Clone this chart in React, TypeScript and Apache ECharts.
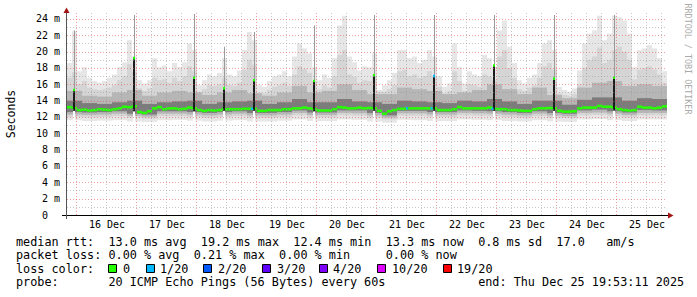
import React, { useEffect, useRef } from "react";
import * as echarts from "echarts";

// ---------- data (x in hours since Dec 15 20:00, y in milliseconds) ----------
const DAY_LABELS = ["16 Dec", "17 Dec", "18 Dec", "19 Dec", "20 Dec", "21 Dec", "22 Dec", "23 Dec", "24 Dec", "25 Dec"];
const DAY_LABEL_HOURS = [16, 40, 64, 88, 112, 136, 160, 184, 208, 232];
const MIDNIGHT_HOURS = [4, 28, 52, 76, 100, 124, 148, 172, 196, 220];
const SIX_HOUR_HOURS = [10, 16, 22, 34, 40, 46, 58, 64, 70, 82, 88, 94, 106, 112, 118, 130, 136, 142, 154, 160, 166, 178, 184, 190, 202, 208, 214, 226, 232, 238];
const Y_MAJOR = [2, 4, 6, 8, 10, 12, 14, 16, 18, 20, 22, 24];
const Y_MINOR = [1, 3, 5, 7, 9, 11, 13, 15, 17, 19, 21, 23];
const X_MAX = 240;
const Y_MAX = 24.73;

// median rtt, 2-hour buckets
const MEDIAN = [
  13.2, 13.1, 12.85, 12.9, 12.8, 12.85, 12.95, 12.9, 12.85, 12.95,
  13.05, 13.25, 13.2, 13.3, 12.6, 12.5, 12.7, 13.05, 13.2, 12.95,
  13.05, 13.05, 12.95, 13.0, 13.15, 13.05, 12.85, 12.75, 12.85, 12.8,
  12.85, 12.95, 12.95, 12.95, 12.95, 13.0, 13.0, 13.0, 12.75, 12.75,
  12.85, 12.85, 12.85, 12.95, 12.95, 13.05, 13.05, 13.15, 13.05, 12.95,
  12.8, 12.8, 12.8, 12.95, 13.2, 13.15, 13.05, 13.05, 13.15, 13.05,
  13.1, 13.05, 12.75, 12.4, 12.7, 12.85, 13.0, 13.0, 13.05, 13.05,
  13.05, 13.05, 13.05, 13.05, 12.85, 12.85, 12.85, 12.95, 13.2, 13.05,
  13.05, 13.05, 13.05, 13.05, 13.15, 13.0, 12.95, 12.95, 12.85, 12.85,
  12.8, 12.75, 12.75, 12.95, 13.05, 13.05, 13.1, 13.05, 12.75, 12.65,
  12.65, 12.7, 13.05, 13.15, 13.15, 13.15, 13.35, 13.25, 13.25, 13.15,
  12.95, 12.85, 12.8, 12.85, 13.25, 13.15, 13.15, 13.05, 13.15, 13.3,
];
// highest ping, 2-hour buckets
const SMOKE_MAX = [
  18.6, 22.5, 17.6, 18.1, 16.8, 16.4, 16.2, 16.4, 16.8, 17.2,
  18.1, 18.7, 21.4, 19.4, 16.5, 16.1, 16.5, 19.2, 18.1, 18.3,
  17.6, 18.6, 18.1, 18.7, 21.0, 20.2, 15.9, 16.5, 17.2, 17.0,
  17.4, 19.2, 17.2, 17.0, 17.7, 20.2, 22.4, 21.4, 15.9, 15.7,
  16.4, 17.0, 17.2, 17.6, 17.0, 19.4, 21.0, 20.4, 19.8, 18.1,
  16.5, 17.2, 16.8, 19.2, 23.2, 24.4, 19.4, 18.7, 17.7, 18.2,
  18.1, 19.8, 15.3, 15.9, 16.5, 17.4, 20.2, 20.2, 19.2, 19.4,
  18.6, 19.0, 20.2, 19.4, 17.0, 15.7, 16.1, 21.0, 18.1, 16.1,
  17.6, 17.2, 17.0, 19.6, 19.2, 18.1, 22.6, 23.8, 20.6, 18.6,
  16.5, 16.1, 16.8, 17.2, 18.6, 21.0, 21.4, 20.2, 15.7, 15.3,
  15.1, 15.5, 17.7, 21.0, 22.2, 22.6, 24.4, 21.4, 22.2, 24.4,
  24.2, 23.8, 22.2, 18.1, 20.2, 20.4, 20.8, 20.4, 19.2, 17.6,
];
// 2nd highest smoke level, 2-hour buckets
const SMOKE_HI2 = [
  16.8, 17.5, 16.0, 16.4, 15.6, 15.4, 15.3, 15.4, 15.6, 15.9,
  16.5, 17.0, 18.5, 17.5, 15.5, 15.2, 15.5, 16.8, 16.5, 16.6,
  16.2, 16.8, 16.4, 17.0, 18.2, 17.6, 15.1, 15.4, 15.9, 15.8,
  16.0, 16.8, 15.9, 15.8, 16.2, 17.8, 19.0, 18.4, 15.0, 14.9,
  15.3, 15.7, 15.9, 16.2, 15.8, 17.2, 18.2, 17.9, 17.4, 16.4,
  15.4, 15.9, 15.6, 17.0, 19.6, 20.2, 17.2, 16.9, 16.2, 16.5,
  16.4, 17.2, 15.1, 15.1, 15.4, 15.9, 17.6, 17.8, 17.0, 17.2,
  16.8, 17.0, 17.6, 17.0, 15.7, 14.9, 15.2, 17.6, 16.4, 15.2,
  16.0, 15.9, 15.7, 17.2, 17.0, 16.5, 19.4, 20.2, 18.0, 16.8,
  15.4, 15.2, 15.6, 15.9, 16.8, 18.2, 18.6, 17.8, 14.9, 14.7,
  14.6, 14.8, 16.0, 18.0, 19.0, 19.4, 20.5, 18.6, 19.0, 20.2,
  20.6, 20.0, 19.0, 16.6, 17.8, 18.0, 18.2, 17.8, 17.2, 16.2,
];
// 6-hour buckets
const SMOKE_HI3 = [
  15.2, 14.6, 14.5, 15.0, 15.3, 14.6, 15.0, 15.2, 15.0, 14.7,
  15.0, 15.3, 14.9, 14.6, 15.0, 15.8, 15.0, 15.2, 16.0, 15.3,
  14.8, 14.8, 15.6, 15.4, 15.2, 14.8, 15.0, 15.3, 16.0, 15.4,
  14.8, 15.6, 14.7, 14.3, 15.6, 16.2, 16.4, 15.8, 16.0, 15.8,
];
const SMOKE_HI4 = [
  14.0, 13.7, 13.6, 13.8, 14.0, 13.6, 13.8, 13.9, 14.0, 13.6,
  13.8, 13.9, 14.0, 13.6, 13.8, 14.2, 13.8, 13.8, 14.2, 13.9,
  13.8, 13.6, 14.0, 13.9, 13.8, 13.7, 14.0, 13.9, 14.2, 13.9,
  13.6, 14.0, 14.0, 13.5, 14.1, 14.4, 14.4, 14.0, 14.3, 14.2,
];
const SMOKE_LO4 = [
  12.6, 12.55, 12.6, 12.7, 12.4, 12.3, 12.7, 12.7, 12.6, 12.5,
  12.6, 12.7, 12.5, 12.5, 12.6, 12.8, 12.55, 12.55, 12.8, 12.8,
  12.5, 12.2, 12.75, 12.75, 12.6, 12.6, 12.8, 12.75, 12.7, 12.6,
  12.5, 12.7, 12.5, 12.4, 12.8, 12.9, 12.7, 12.55, 12.85, 12.8,
];
const SMOKE_LO3 = [
  12.3, 12.25, 12.3, 12.4, 12.15, 12.05, 12.4, 12.4, 12.3, 12.2,
  12.3, 12.4, 12.2, 12.2, 12.3, 12.5, 12.25, 12.25, 12.5, 12.45,
  12.2, 11.95, 12.45, 12.45, 12.3, 12.3, 12.5, 12.45, 12.4, 12.3,
  12.2, 12.4, 12.2, 12.1, 12.5, 12.55, 12.4, 12.25, 12.5, 12.5,
];
const SMOKE_LO2 = [
  12.0, 11.95, 12.0, 12.1, 11.9, 11.8, 12.1, 12.1, 12.0, 11.9,
  12.0, 12.1, 11.9, 11.9, 12.0, 12.2, 11.95, 11.95, 12.2, 12.15,
  11.9, 11.7, 12.15, 12.15, 12.0, 12.0, 12.2, 12.15, 12.1, 12.0,
  11.9, 12.1, 11.9, 11.85, 12.2, 12.25, 12.1, 11.95, 12.2, 12.2,
];
const SMOKE_MIN = [
  11.6, 11.5, 11.55, 11.6, 11.45, 11.4, 11.6, 11.65, 11.55, 11.45,
  11.55, 11.6, 11.45, 11.45, 11.55, 11.7, 11.5, 11.5, 11.7, 11.65,
  11.45, 11.3, 11.65, 11.6, 11.5, 11.5, 11.7, 11.65, 11.6, 11.5,
  11.45, 11.6, 11.45, 11.4, 11.7, 11.75, 11.6, 11.5, 11.7, 11.7,
];
// short median spikes
const SPIKE_HOUR = [2.4, 26.4, 50.4, 62.4, 74.4, 98.4, 122.4, 146.4, 170.4, 194.4, 218.4];
const SPIKE_MEDIAN = [15.3, 19.2, 16.8, 15.5, 16.5, 16.4, 17.1, 17.0, 18.3, 16.7, 16.8];
const SPIKE_MAX = [22.6, 24.5, 24.6, 20.6, 22.4, 23.2, 24.5, 24.5, 24.5, 24.5, 24.5];
const SPIKE_BASE = [12.75, 12.7, 12.7, 12.75, 12.75, 12.7, 12.75, 12.75, 12.75, 12.75, 12.8];
const SPIKE_LOSS = [0, 0, 0, 0, 0, 0, 0, 1, 0, 0, 0];
// buckets with 1/20 loss
const LOSS_HOUR = [73.6, 135.6, 145.4, 169.8];
const LOSS_VALUE = [13.0, 13.05, 13.05, 13.0];

// legend texts
const LINE_RTT = [["median rtt:", 0], ["13.0 ms avg", 13], ["19.2 ms max", 26], ["12.4 ms min", 39], ["13.3 ms now", 52], ["0.8 ms sd", 65], ["17.0", 76], ["am/s", 83]];
const LINE_LOSS = [["packet loss:", 0], ["0.00 % avg", 13], ["0.21 % max", 25], ["0.00 % min", 37], ["0.00 % now", 52]];
const LINE_PROBE = [["probe:", 0], ["20 ICMP Echo Pings (56 Bytes) every 60s", 13], ["end: Thu Dec 25 19:53:11 2025", 65]];
const LOSS_LABELS = ["0", "1/20", "2/20", "3/20", "4/20", "10/20", "19/20"];
const LOSS_COLORS = ["#26ff00", "#00b8ff", "#0059ff", "#5e00ff", "#7e00ff", "#dd00ff", "#ff0000"];
const LOSS_BOX_X = [108, 146, 203, 262, 319, 377, 443];
const LOSS_LABEL_X = [123, 160, 218, 277, 333, 392, 457];

const MONO = "'DejaVu Sans Mono', monospace";
const CH = 7.11;
const TX0 = 16;

function rectRender(fill: string) {
  return (_p: any, api: any) => {
    const a = api.coord([api.value(0), api.value(3)]);
    const b = api.coord([api.value(1), api.value(2)]);
    return {
      type: "rect",
      shape: { x: a[0], y: a[1], width: b[0] - a[0], height: b[1] - a[1] },
      style: { fill },
    };
  };
}

function dotRender(colorOf: (api: any) => string, h: number) {
  return (_p: any, api: any) => {
    const a = api.coord([api.value(0), api.value(2)]);
    const b = api.coord([api.value(1), api.value(2)]);
    return {
      type: "rect",
      shape: { x: a[0], y: a[1] - h / 2, width: b[0] - a[0], height: h },
      style: { fill: colorOf(api) },
    };
  };
}

const MAJOR_GRID = "rgba(233,80,80,0.55)";
const MINOR_GRID = "rgba(143,143,143,0.5)";

function buildOption() {
  const g = (i: number) => Math.floor(i / 3);
  const light1 = SMOKE_MAX.map((v, i) => [2 * i, 2 * i + 2, SMOKE_MIN[g(i)], v]);
  const light2 = SMOKE_HI2.map((v, i) => [2 * i, 2 * i + 2, SMOKE_LO2[g(i)], v]);
  const mid = SMOKE_HI3.map((v, j) => [6 * j, 6 * j + 6, SMOKE_LO3[j], v]);
  const dark = SMOKE_HI4.map((v, j) => [6 * j, 6 * j + 6, SMOKE_LO4[j], v]);
  const med = MEDIAN.map((v, i) => [2 * i, 2 * i + 2, v]);
  const gap = SPIKE_HOUR.map((h, k) => [h, h + 0.8, SMOKE_MIN[Math.floor(h / 6)] - 0.05, SPIKE_BASE[k]]);
  const bar = SPIKE_HOUR.map((h, k) => [h, h + 0.8, SPIKE_BASE[k], SPIKE_MEDIAN[k]]);
  const line = SPIKE_HOUR.map((h, k) => [h + 0.4, h + 0.8, SPIKE_MEDIAN[k], SPIKE_MAX[k]]);
  const top = SPIKE_HOUR.map((h, k) => [h, h + 0.8, SPIKE_MEDIAN[k], SPIKE_LOSS[k]]);
  const loss = LOSS_HOUR.map((h, k) => [h, h + 0.8, LOSS_VALUE[k]]);
  const vLines = [...SIX_HOUR_HOURS.map((h) => [h, 0]), ...MIDNIGHT_HOURS.map((h) => [h, 1])];
  const hLines = [...Y_MINOR.map((v) => [v, 0]), ...Y_MAJOR.map((v) => [v, 1])];

  const rectSeries = (name: string, data: any[], fill: string) => ({
    type: "custom",
    name,
    data,
    clip: true,
    silent: true,
    encode: { x: [0, 1], y: [2, 3] },
    renderItem: rectRender(fill),
  });

  const graphic: any[] = [
    { type: "text", x: 10.5, y: 114, rotation: Math.PI / 2, style: { text: "Seconds", font: `11.5px ${MONO}`, fill: "#000", align: "center", verticalAlign: "middle" } },
    { type: "text", x: 688, y: 59, rotation: -Math.PI / 2, style: { text: "RRDTOOL / TOBI OETIKER", font: `8.4px ${MONO}`, fill: "#aaaaaa", align: "center", verticalAlign: "middle" } },
    { type: "line", shape: { x1: 62, y1: 215.5, x2: 668, y2: 215.5 }, style: { stroke: "#000", lineWidth: 1 } },
    { type: "line", shape: { x1: 66.5, y1: 12, x2: 66.5, y2: 219 }, style: { stroke: "#555", lineWidth: 1 } },
    { type: "polygon", shape: { points: [[668, 212.5], [673.5, 215.5], [668, 218.5]] }, style: { fill: "#a31515" } },
    { type: "polygon", shape: { points: [[63.5, 13], [66.5, 7.5], [69.5, 13]] }, style: { fill: "#a31515" } },
  ];
  const addLine = (items: any[], y: number) => {
    items.forEach(([t, c]) => {
      graphic.push({ type: "text", x: TX0 + (c as number) * CH, y, style: { text: t, font: `11.8px ${MONO}`, fill: "#000", align: "left", verticalAlign: "middle" } });
    });
  };
  addLine(LINE_RTT, 241.5);
  addLine(LINE_LOSS, 255);
  graphic.push({ type: "text", x: TX0, y: 268.5, style: { text: "loss color:", font: `11.8px ${MONO}`, fill: "#000", align: "left", verticalAlign: "middle" } });
  LOSS_LABELS.forEach((lab, k) => {
    graphic.push({ type: "rect", shape: { x: LOSS_BOX_X[k] + 0.5, y: 264.5, width: 8, height: 8 }, style: { fill: LOSS_COLORS[k], stroke: "#000", lineWidth: 1 } });
    graphic.push({ type: "text", x: LOSS_LABEL_X[k], y: 268.5, style: { text: lab, font: `11.8px ${MONO}`, fill: "#000", align: "left", verticalAlign: "middle" } });
  });
  addLine(LINE_PROBE, 282);

  return {
    animation: false,
    backgroundColor: "#ffffff",
    textStyle: { fontFamily: MONO },
    grid: { left: 67, right: 30, top: 13, bottom: 82, containLabel: false, outerBoundsMode: "none" },
    xAxis: {
      type: "value",
      min: 0,
      max: X_MAX,
      axisLine: { show: false },
      axisTick: { show: false },
      splitLine: { show: false },
      axisLabel: {
        customValues: DAY_LABEL_HOURS,
        formatter: (v: number) => DAY_LABELS[DAY_LABEL_HOURS.indexOf(v)] ?? "",
        fontFamily: MONO,
        fontSize: 10,
        color: "#000",
        margin: 4,
      },
    },
    yAxis: {
      type: "value",
      min: 0,
      max: Y_MAX,
      interval: 2,
      axisLine: { show: false },
      axisTick: { show: false },
      splitLine: { show: false },
      axisLabel: {
        showMaxLabel: false,
        fontFamily: MONO,
        fontSize: 10,
        color: "#000",
        margin: 7,
        formatter: (v: number) => (v === 0 ? "{z|0}" : `${v} m`),
        rich: { z: { padding: [0, 12, 0, 0], fontFamily: MONO, fontSize: 10, color: "#000" } },
      },
    },
    series: [
      rectSeries("smoke1", light1, "#e6e6e6"),
      rectSeries("smoke2", light2, "#d5d5d5"),
      rectSeries("smoke3", mid, "#b6b6b6"),
      rectSeries("smoke4", dark, "#7c7c7c"),
      { type: "custom", name: "median", data: med, clip: true, silent: true, encode: { x: [0, 1], y: 2 }, renderItem: dotRender(() => "#26ff00", 2.6) },
      rectSeries("spikeGap", gap, "#ffffff"),
      rectSeries("spikeBar", bar, "#1c1c1c"),
      rectSeries("spikeMax", line, "#9a9a9a"),
      { type: "custom", name: "spikeTop", data: top, clip: true, silent: true, encode: { x: [0, 1], y: 2 }, renderItem: dotRender((api) => (api.value(3) ? "#00b8ff" : "#26ff00"), 2.6) },
      { type: "custom", name: "loss", data: loss, clip: true, silent: true, encode: { x: [0, 1], y: 2 }, renderItem: dotRender(() => "#00b8ff", 2.6) },
      {
        type: "custom",
        name: "vgrid",
        data: vLines,
        silent: true,
        z: 5,
        encode: { x: 0 },
        renderItem: (_p: any, api: any) => {
          const a = api.coord([api.value(0), Y_MAX]);
          const b = api.coord([api.value(0), 0]);
          const x = Math.round(a[0]) - 0.5;
          return { type: "line", shape: { x1: x, y1: a[1], x2: x, y2: b[1] }, style: { stroke: api.value(1) ? MAJOR_GRID : MINOR_GRID, lineWidth: 1, lineDash: [1, 2] } };
        },
      },
      {
        type: "custom",
        name: "hgrid",
        data: hLines,
        silent: true,
        z: 5,
        encode: { y: 0 },
        renderItem: (_p: any, api: any) => {
          const a = api.coord([0, api.value(0)]);
          const b = api.coord([X_MAX, api.value(0)]);
          const y = Math.round(a[1]) + 0.5;
          return { type: "line", shape: { x1: a[0], y1: y, x2: b[0], y2: y }, style: { stroke: api.value(1) ? MAJOR_GRID : MINOR_GRID, lineWidth: 1, lineDash: [1, 2] } };
        },
      },
    ],
    graphic,
  };
}

export default function App() {
  const ref = useRef<HTMLDivElement>(null);
  useEffect(() => {
    const chart = echarts.init(ref.current!, null, { renderer: "svg" });
    chart.setOption(buildOption() as any);
    return () => chart.dispose();
  }, []);
  return <div ref={ref} style={{ position: "fixed", left: 0, top: 0, width: 697, height: 297, background: "#fff" }} />;
}
